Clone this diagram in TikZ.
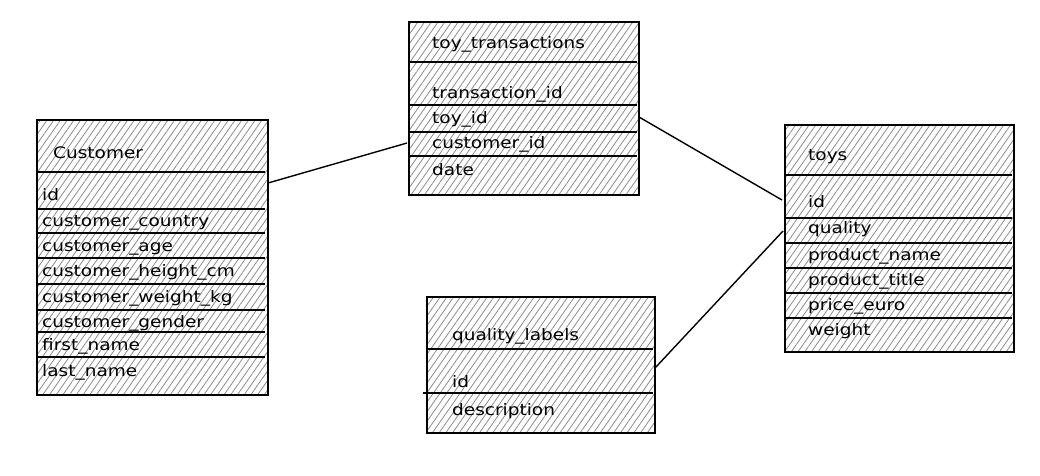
\documentclass[tikz,border=0pt]{standalone}
\usepackage{fontspec}
\setmainfont[FakeStretch=1.17]{DejaVu Sans}
\usetikzlibrary{patterns.meta,calc}
\begin{document}
\begin{tikzpicture}[x=1pt,y=-1pt,
  tbl/.style={draw=black, line width=1.4pt, rectangle, inner sep=0pt, outer sep=0pt, anchor=north west,
    pattern={Lines[angle=55,distance=5.5pt,line width=0.8pt]}, pattern color=black!45},
  sep/.style={line width=1.3pt},
  lbl/.style={anchor=mid west, inner sep=0pt, yshift=-3pt, font=\fontsize{15.8}{19}\selectfont},
  link/.style={line width=1.4pt}]
\useasboundingbox[fill=white] (0,0) rectangle (1040,475);

% Customer
\node[tbl, minimum width=231pt, minimum height=275pt] (cust) at (37,120) {};
\foreach \y in {172,209,233,258,284,310,332,357} \draw[sep] (37,\y) -- (265,\y);
\node[lbl] (custT) at (53,153) {Customer};
\node[lbl] (c1) at (42,195) {id};
\node[lbl] (c2) at (42,221) {customer\_country};
\node[lbl] (c3) at (42,246) {customer\_age};
\node[lbl] (c4) at (42,271) {customer\_height\_cm};
\node[lbl] (c5) at (42,297) {customer\_weight\_kg};
\node[lbl] (c6) at (42,322) {customer\_gender};
\node[lbl] (c7) at (42,345) {first\_name};
\node[lbl] (c8) at (42,371) {last\_name};

% toy_transactions
\node[tbl, minimum width=230pt, minimum height=173pt] (tt) at (409,22) {};
\foreach \y in {62,105,132,156} \draw[sep] (409,\y) -- (637,\y);
\node[lbl] (ttT) at (432,43) {toy\_transactions};
\node[lbl] (t1) at (432,93) {transaction\_id};
\node[lbl] (t2) at (432,118) {toy\_id};
\node[lbl] (t3) at (432,143) {customer\_id};
\node[lbl] (t4) at (432,170) {date};

% quality_labels
\node[tbl, minimum width=228pt, minimum height=136pt] (ql) at (427,297) {};
\draw[sep] (427,349) -- (653,349);
\draw[sep] (423,393) -- (653,393);
\node[lbl] (qlT) at (452,335) {quality\_labels};
\node[lbl] (q1) at (452,382) {id};
\node[lbl] (q2) at (452,410) {description};

% toys
\node[tbl, minimum width=229pt, minimum height=227pt] (toys) at (785,125) {};
\foreach \y in {175,218,243,268,293,318} \draw[sep] (785,\y) -- (1012,\y);
\node[lbl] (toysT) at (808,155) {toys};
\node[lbl] (y1) at (808,202) {id};
\node[lbl] (y2) at (808,228) {quality};
\node[lbl] (y3) at (808,255) {product\_name};
\node[lbl] (y4) at (808,280) {product\_title};
\node[lbl] (y5) at (808,305) {price\_euro};
\node[lbl] (y6) at (808,330) {weight};

% connectors
\coordinate (pc) at ($(cust.north east)+(0,63)$);
\coordinate (pt1) at ($(tt.north west)+(-2,121)$);
\coordinate (pt2) at ($(tt.north east)+(0,95)$);
\coordinate (py1) at ($(toys.north west)+(-3,75)$);
\coordinate (pq) at ($(ql.north east)+(0,71)$);
\coordinate (py2) at ($(toys.north west)+(-2,106)$);
\draw[link] (pc) -- (pt1);
\draw[link] (pt2) -- (py1);
\draw[link] (pq) -- (py2);
\end{tikzpicture}
\end{document}
